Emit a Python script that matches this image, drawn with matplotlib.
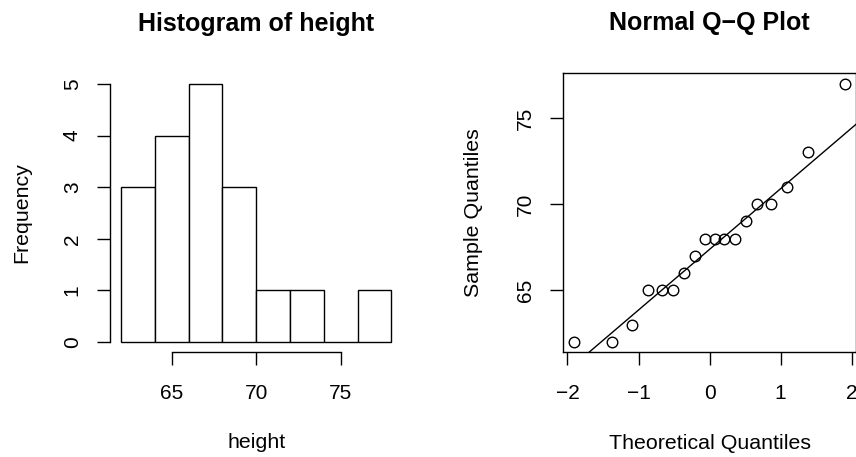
import matplotlib
matplotlib.use('Agg')
import matplotlib.pyplot as plt
import numpy as np

plt.rcParams['font.family'] = ['Liberation Sans', 'DejaVu Sans']

# histogram of height (R hist, right-closed bins)
bin_edges = [62, 64, 66, 68, 70, 72, 74, 76, 78]
counts = [3, 4, 5, 3, 1, 1, 0, 1]
hist_xticks = [65, 70, 75]
hist_yticks = [0, 1, 2, 3, 4, 5]

# normal Q-Q plot
height = [62, 62, 63, 65, 65, 65, 66, 67, 68, 68, 68, 68, 69, 70, 70, 71, 73, 77]
theoretical = [-1.91, -1.38, -1.09, -0.86, -0.67, -0.51, -0.36, -0.21, -0.07,
               0.07, 0.21, 0.36, 0.51, 0.67, 0.86, 1.09, 1.38, 1.91]
qq_xticks = [-2, -1, 0, 1, 2]
qq_yticks = [65, 70, 75]

W, H = 856, 457
LAB = 15.4
TICK = 15.0
TICKLEN = 9.4
LW = 1.0

fig = plt.figure(figsize=(W / 100, H / 100), dpi=100)


def add_axes_px(left, top, right, bottom):
    return fig.add_axes([left / W, 1 - bottom / H, (right - left) / W, (bottom - top) / H])


def style_axes(ax):
    ax.tick_params(direction='out', length=TICKLEN, width=LW, labelsize=TICK)
    ax.tick_params(axis='x', pad=13.5)
    ax.tick_params(axis='y', labelrotation=90, pad=11)
    for lab in ax.get_yticklabels():
        lab.set_va('center')
    for s in ax.spines.values():
        s.set_linewidth(LW)


# ---- left: histogram
ax1 = add_axes_px(110.2, 73.7, 402.2, 352.3)
ax1.bar(bin_edges[:-1], counts, width=np.diff(bin_edges), align='edge',
        facecolor='white', edgecolor='black', linewidth=LW)
lo, hi = bin_edges[0], bin_edges[-1]
ax1.set_xlim(lo - 0.04 * (hi - lo), hi + 0.04 * (hi - lo))
ax1.set_ylim(-0.04 * max(counts), 1.04 * max(counts))
ax1.set_xticks(hist_xticks)
ax1.set_yticks(hist_yticks)
ax1.spines['top'].set_visible(False)
ax1.spines['right'].set_visible(False)
ax1.spines['left'].set_bounds(hist_yticks[0], hist_yticks[-1])
ax1.spines['bottom'].set_bounds(hist_xticks[0], hist_xticks[-1])
style_axes(ax1)
ax1.set_xlabel('height', fontsize=LAB, va='center')
ax1.xaxis.set_label_coords(0.5, -0.325)
ax1.set_ylabel('Frequency', fontsize=LAB, va='center')
ax1.yaxis.set_label_coords(-0.303, 0.5)
ax1.text(0.5, 1.18, 'Histogram of height', transform=ax1.transAxes,
         ha='center', va='center', fontsize=18, fontweight='bold')

# ---- right: normal Q-Q plot
ax2 = add_axes_px(563, 73.2, 856.1, 352.3)
ax2.plot(theoretical, height, 'o', markerfacecolor='none', markeredgecolor='black',
         markersize=7.6, markeredgewidth=LW, clip_on=False)
q1, q3 = np.percentile(height, [25, 75])
z = 0.6745
slope = (q3 - q1) / (2 * z)
ax2.axline((-z, q1), slope=slope, color='black', linewidth=LW)
xr = max(theoretical) - min(theoretical)
yr = max(height) - min(height)
ax2.set_xlim(min(theoretical) - 0.04 * xr, max(theoretical) + 0.04 * xr)
ax2.set_ylim(min(height) - 0.04 * yr, max(height) + 0.04 * yr)
ax2.set_xticks(qq_xticks)
ax2.set_xticklabels(['\u22122', '\u22121', '0', '1', '2'])
ax2.set_yticks(qq_yticks)
style_axes(ax2)
ax2.set_xlabel('Theoretical Quantiles', fontsize=LAB, va='center')
ax2.xaxis.set_label_coords(0.5, -0.325)
ax2.set_ylabel('Sample Quantiles', fontsize=LAB, va='center')
ax2.yaxis.set_label_coords(-0.307, 0.5)
ax2.text(0.5, 1.18, 'Normal Q\u2212Q Plot', transform=ax2.transAxes,
         ha='center', va='center', fontsize=18, fontweight='bold')

fig.savefig('out.png', dpi=100)
